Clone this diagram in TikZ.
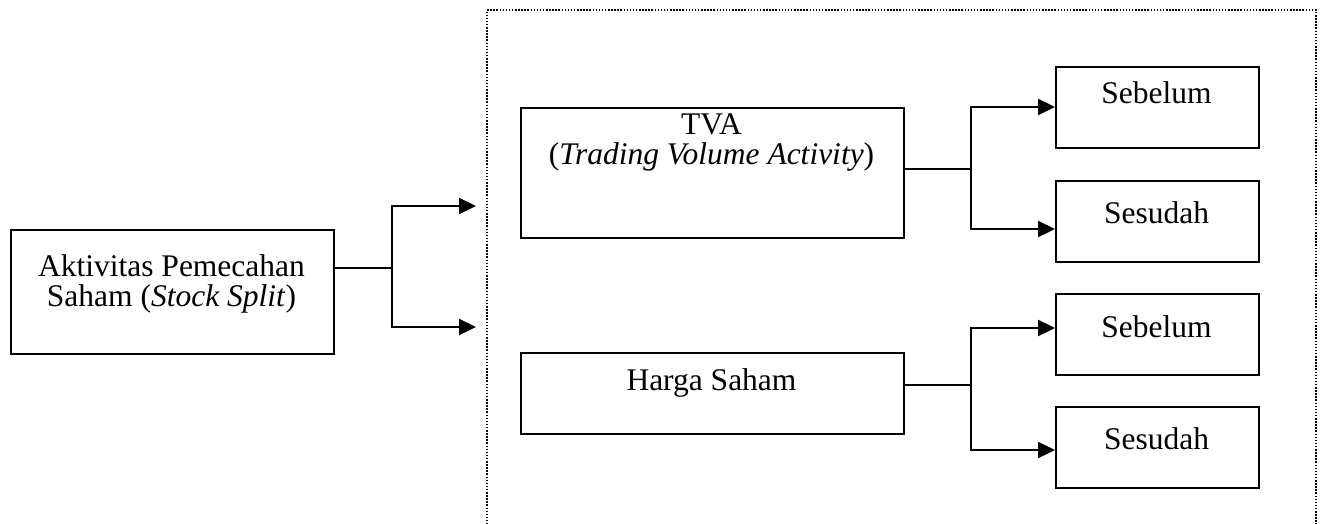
\documentclass[tikz,border=0pt]{standalone}
\usepackage{fontspec}
\setmainfont{Liberation Serif}
\usetikzlibrary{arrows.meta}
\begin{document}
\begin{tikzpicture}[x=1pt,y=-1pt,
  box/.style={draw=black,line width=2pt,rectangle,anchor=north west,inner sep=0pt},
  txt/.style={font=\fontsize{31.5}{30}\selectfont,align=center,inner sep=0pt},
  conn/.style={draw=black,line width=2.3pt},
  arr/.style={conn,-{Triangle[length=17pt,width=16pt]}},
  frame/.style={draw=black,line width=1.6pt,dash pattern=on 1.5pt off 1.6pt}]
\useasboundingbox (0,0) rectangle (1320,523);
\begin{scope}
\clip (0,0) rectangle (1320,523);
\draw[frame] (487,540) -- (487,10) -- (1316,10) -- (1316,540);
\end{scope}
% boxes
\node[box,minimum width=323pt,minimum height=124pt] (src) at (10,229) {};
\node[box,minimum width=383pt,minimum height=130pt] (tva) at (520,107) {};
\node[box,minimum width=383pt,minimum height=81pt] (hs) at (520,352) {};
\node[box,minimum width=203pt,minimum height=81pt] (s1) at (1055,66) {};
\node[box,minimum width=203pt,minimum height=81pt] (s2) at (1055,180) {};
\node[box,minimum width=203pt,minimum height=81pt] (s3) at (1055,293) {};
\node[box,minimum width=203pt,minimum height=81pt] (s4) at (1055,406) {};
% texts
\node[txt] (tsrc) at (171.5,284) {Aktivitas Pemecahan\\Saham (\textit{Stock Split})};
\node[txt] (ttva) at (711.5,142) {TVA\\(\textit{Trading Volume Activity})};
\node[txt] (ths) at (711.5,383) {Harga Saham};
\node[txt] (ts1) at (1156.5,93) {Sebelum};
\node[txt] (ts2) at (1156.5,213) {Sesudah};
\node[txt] (ts3) at (1156.5,327) {Sebelum};
\node[txt] (ts4) at (1156.5,439) {Sesudah};
% coordinates
\coordinate (b0) at (392,268);
\coordinate (e1) at (476,206);
\coordinate (e2) at (476,327);
\coordinate (b1) at (971,169);
\coordinate (b2) at (971,385);
% connectors
\draw[conn] (src.east |- b0) -- (b0);
\draw[arr] (b0) |- (e1);
\draw[arr] (b0) |- (e2);
\draw[conn] (tva.east |- b1) -- (b1);
\draw[arr] (b1) |- (s1.west |- 0,107);
\draw[arr] (b1) |- (s2.west |- 0,229);
\draw[conn] (hs.east |- b2) -- (b2);
\draw[arr] (b2) |- (s3.west |- 0,328);
\draw[arr] (b2) |- (s4.west |- 0,450);
\end{tikzpicture}
\end{document}
